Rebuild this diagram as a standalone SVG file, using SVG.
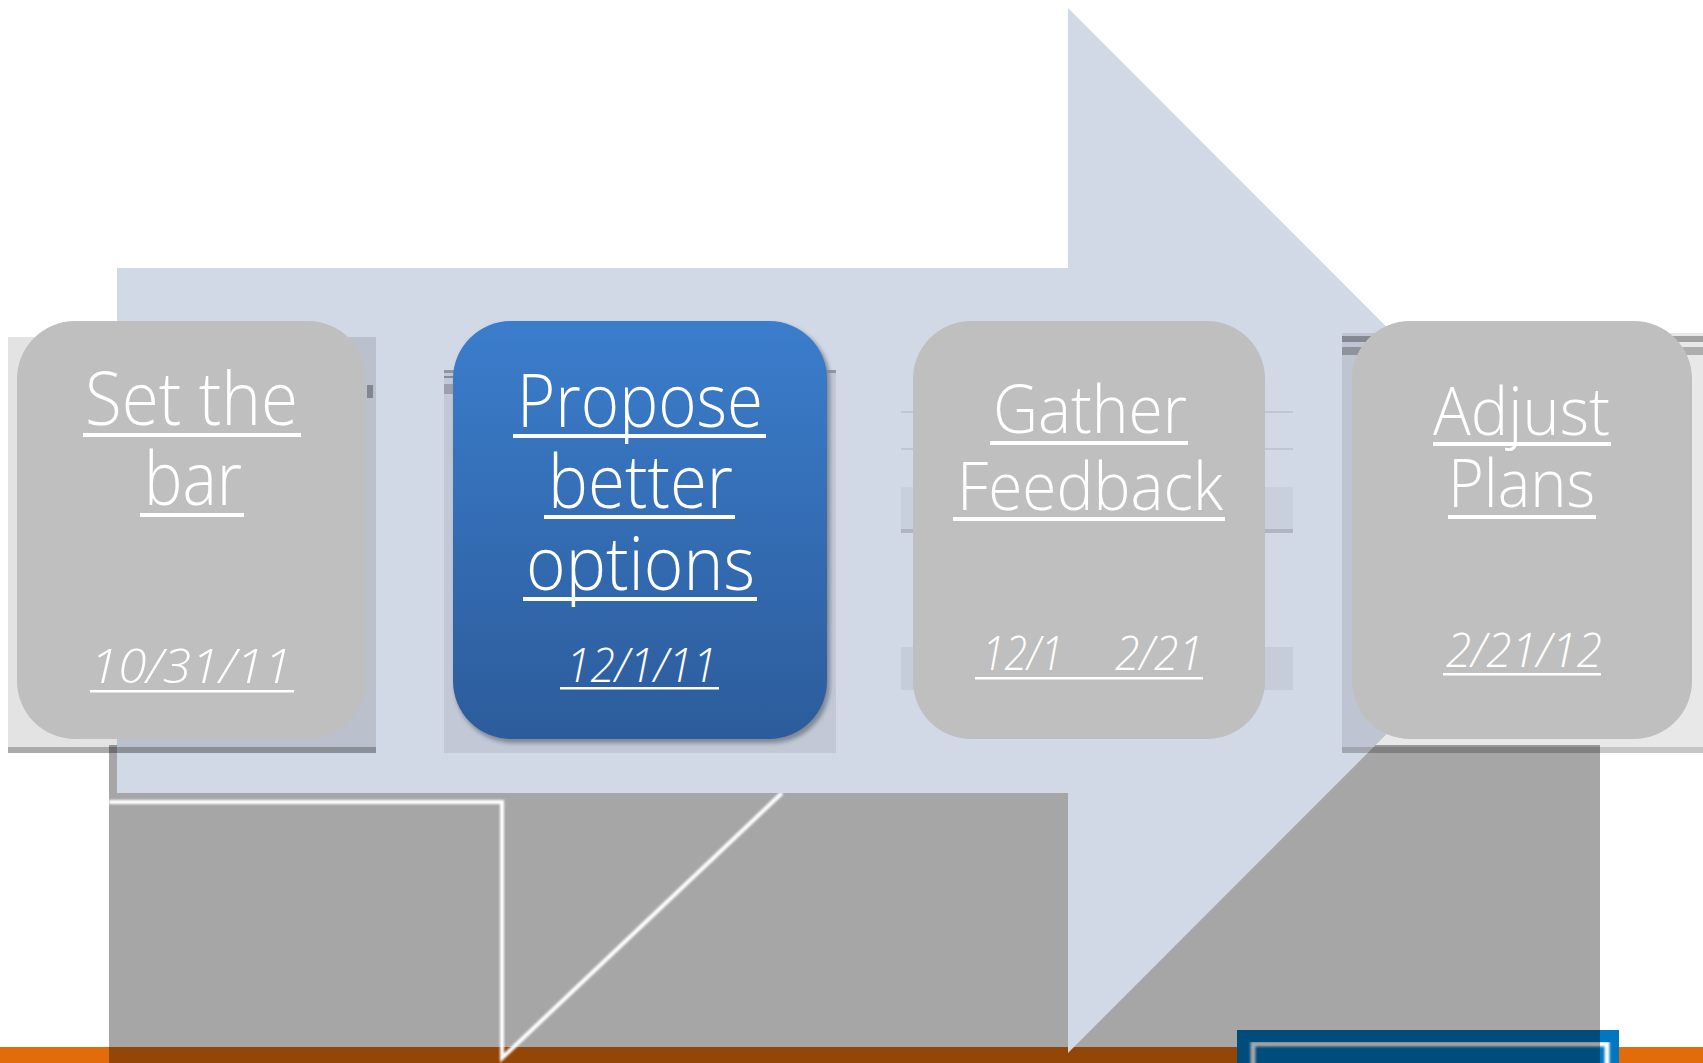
<svg xmlns="http://www.w3.org/2000/svg" width="1703" height="1063" viewBox="0 0 1703 1063">
<style>
.t{font-family:"Open Sans","Lato","Roboto","Liberation Sans",sans-serif;font-weight:300;fill:#fff}
.big{font-size:74px}
.mid{font-size:66px}
.dt{font-size:48px;font-style:italic}
.ul{fill:#fff}
.box{fill:#BFBFBF}
.glow{fill:none;stroke:#fff;stroke-width:4;filter:url(#soft)}
.back{fill:#000}
</style>
<defs>
<linearGradient id="blueGrad" x1="0" y1="0" x2="0" y2="1">
<stop offset="0" stop-color="#3B7DCC"/>
<stop offset="1" stop-color="#2C5C9B"/>
</linearGradient>
<filter id="soft" x="-5%" y="-5%" width="110%" height="110%"><feGaussianBlur stdDeviation="0.9"/></filter>
<filter id="shadow" x="-10%" y="-10%" width="120%" height="120%"><feGaussianBlur stdDeviation="2"/></filter>
</defs>
<rect width="1703" height="1063" fill="#fff"/>
<g id="background">
<rect x="0" y="1047" width="1703" height="16" fill="#E36C0A"/>
<rect x="1237" y="1030" width="382" height="40" fill="#0077C0"/>
<rect x="1253" y="1044" width="354" height="30" fill="none" stroke="#fff" stroke-width="5" filter="url(#soft)"/>
<rect x="109" y="745" width="1491" height="318" fill="#000" opacity="0.35"/>
</g>
<g id="connectors">
<path class="glow" d="M109 802 H502 V1058 L782 793"/>
<path class="glow" d="M1320 800 H1600"/>
<path class="glow" d="M1042 797 H1068"/>
<polygon id="arrow" points="117,268 1068,268 1068,8 1590,530.5 1068,1053 1068,793 117,793" fill="#D1D8E6"/>
</g>
<g id="node-set-the-bar">
<rect class="back" x="8" y="337" width="368" height="416" opacity="0.11"/>
<rect class="back" x="8" y="747" width="368" height="6" opacity="0.25"/>
<rect class="back" x="367" y="385" width="6" height="13" opacity="0.3"/>
<rect class="box" x="17" y="321" width="349" height="418" rx="58"/>
<text class="t big" x="85" y="425" textLength="213" lengthAdjust="spacingAndGlyphs">Set the</text>
<rect class="ul" x="83" y="433" width="218" height="4"/>
<text class="t big" x="144" y="505" textLength="98" lengthAdjust="spacingAndGlyphs">bar</text>
<rect class="ul" x="140" y="513" width="104" height="4"/>
<text class="t dt" x="90" y="683" textLength="202" lengthAdjust="spacingAndGlyphs">10/31/11</text>
<rect class="ul" x="90" y="690" width="204" height="2.5"/>
</g>
<g id="node-propose">
<rect class="back" x="444" y="370" width="392" height="383" opacity="0.07"/>
<rect class="back" x="444" y="370" width="392" height="3" opacity="0.25"/>
<rect class="back" x="444" y="376" width="10" height="2" opacity="0.3"/>
<rect class="back" x="444" y="384" width="10" height="10" opacity="0.2"/>
<rect x="455" y="324" width="375" height="419" rx="58" fill="#7F8795" filter="url(#shadow)"/>
<rect x="453" y="321" width="374" height="418" rx="58" fill="url(#blueGrad)"/>
<text class="t big" x="517" y="427" textLength="246" lengthAdjust="spacingAndGlyphs">Propose</text>
<rect class="ul" x="513" y="434" width="253" height="4"/>
<text class="t big" x="548" y="508" textLength="185" lengthAdjust="spacingAndGlyphs">better</text>
<rect class="ul" x="544" y="515" width="191" height="4"/>
<text class="t big" x="526" y="590" textLength="229" lengthAdjust="spacingAndGlyphs">options</text>
<rect class="ul" x="523" y="597" width="234" height="4"/>
<text class="t dt" x="566" y="682" textLength="151" lengthAdjust="spacingAndGlyphs">12/1/11</text>
<rect class="ul" x="560" y="687" width="159" height="2.5"/>
</g>
<g id="node-gather">
<rect class="back" x="901" y="411" width="392" height="2" opacity="0.08"/>
<rect class="back" x="901" y="448" width="392" height="2" opacity="0.08"/>
<rect class="back" x="901" y="487" width="392" height="46" opacity="0.04"/>
<rect class="back" x="901" y="529" width="392" height="4" opacity="0.12"/>
<rect class="back" x="901" y="647" width="392" height="43" opacity="0.05"/>
<rect class="box" x="913" y="321" width="352" height="418" rx="58"/>
<text class="t mid" x="993" y="433" textLength="194" lengthAdjust="spacingAndGlyphs">Gather</text>
<rect class="ul" x="990" y="441" width="198" height="4"/>
<text class="t mid" x="957" y="510" textLength="266" lengthAdjust="spacingAndGlyphs">Feedback</text>
<rect class="ul" x="953" y="517" width="272" height="4"/>
<text class="t dt" y="670"><tspan x="982" textLength="81" lengthAdjust="spacingAndGlyphs">12/1</tspan><tspan x="1115" textLength="88" lengthAdjust="spacingAndGlyphs">2/21</tspan></text>
<rect class="ul" x="975" y="677" width="228" height="2.5"/>
</g>
<g id="node-adjust">
<rect class="back" x="1342" y="333" width="361" height="420" opacity="0.09"/>
<rect class="back" x="1342" y="336" width="361" height="6" opacity="0.3"/>
<rect class="back" x="1342" y="347" width="361" height="8" opacity="0.25"/>
<rect class="back" x="1342" y="747" width="361" height="6" opacity="0.15"/>
<rect class="box" x="1352" y="321" width="340" height="418" rx="58"/>
<text class="t mid" x="1433" y="435" textLength="177" lengthAdjust="spacingAndGlyphs">Adjust</text>
<rect class="ul" x="1433" y="442" width="178" height="4"/>
<text class="t mid" x="1448" y="507" textLength="147" lengthAdjust="spacingAndGlyphs">Plans</text>
<rect class="ul" x="1448" y="515" width="148" height="4"/>
<text class="t dt" x="1446" y="667" textLength="156" lengthAdjust="spacingAndGlyphs">2/21/12</text>
<rect class="ul" x="1443" y="673" width="158" height="2.5"/>
</g>
</svg>
